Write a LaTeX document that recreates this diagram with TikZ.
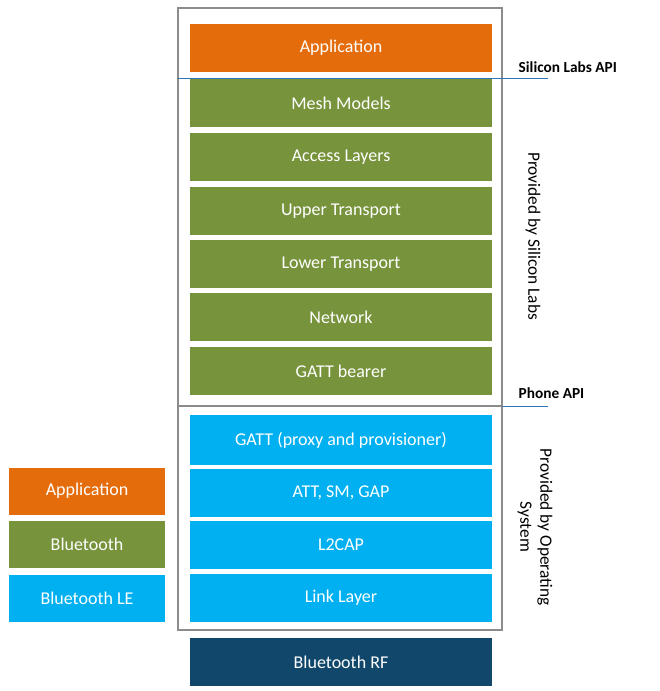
\documentclass[tikz,border=0pt]{standalone}
\usepackage{fontspec}
\setmainfont{Carlito}
\usetikzlibrary{positioning}
\definecolor{apporange}{HTML}{E46C0A}
\definecolor{meshgreen}{HTML}{77933C}
\definecolor{bleblue}{HTML}{00B0F0}
\definecolor{rfblue}{HTML}{10476A}
\definecolor{framegray}{HTML}{8C8C8C}
\definecolor{apiline}{HTML}{2E75B6}
\tikzset{
  lyr/.style={rectangle, minimum width=302*0.75pt, minimum height=48*0.75pt, inner sep=0pt, text=white, font=\fontsize{13.5}{15}\selectfont},
  leg/.style={rectangle, minimum width=156*0.75pt, minimum height=47*0.75pt, inner sep=0pt, text=white, font=\fontsize{13.5}{15}\selectfont},
  apitxt/.style={font=\bfseries\fontsize{11.5}{13}\selectfont, anchor=west},
  side/.style={font=\fontsize{13}{15}\selectfont, align=center, rotate=-90},
}
\begin{document}
\begin{tikzpicture}[x=0.75pt, y=-0.75pt]
  \useasboundingbox (0,0) rectangle (659,691);
  % --- frames ---
  \draw[framegray, line width=2.2pt] (178,8) rectangle (502,406);
  \draw[framegray, line width=2.2pt] (178,406) rectangle (502,630);
  % --- Silicon Labs stack ---
  \node[lyr, fill=apporange] (app) at (341,48) {Application};
  \node[lyr, fill=meshgreen] (mesh) at (341,103) {Mesh Models};
  \node[lyr, fill=meshgreen] (acc) at (341,157) {Access Layers};
  \node[lyr, fill=meshgreen] (upper) at (341,211) {Upper Transport};
  \node[lyr, fill=meshgreen] (lower) at (341,264) {Lower Transport};
  \node[lyr, fill=meshgreen] (net) at (341,317) {Network};
  \node[lyr, fill=meshgreen] (bearer) at (341,371) {GATT bearer};
  % --- OS stack ---
  \node[lyr, fill=bleblue, minimum height=50*0.75pt] (gatt) at (341,440) {GATT (proxy and provisioner)};
  \node[lyr, fill=bleblue] (att) at (341,493) {ATT, SM, GAP};
  \node[lyr, fill=bleblue] (l2cap) at (341,545) {L2CAP};
  \node[lyr, fill=bleblue] (link) at (341,598) {Link Layer};
  \node[lyr, fill=rfblue] (rf) at (341,662) {Bluetooth RF};
  % --- API lines ---
  \coordinate (sl0) at (178,78);
  \coordinate (sl1) at (548,78);
  \coordinate (ph0) at (502,406);
  \coordinate (ph1) at (548,406);
  \draw[apiline, line width=0.6pt] (sl0) -- (sl1);
  \draw[apiline, line width=0.6pt] (ph0) -- (ph1);
  \node[apitxt] (slapi) at (514,67) {Silicon Labs API};
  \node[apitxt] (phapi) at (514,393) {Phone API};
  \node[side] (bysl) at (533,236) {Provided by Silicon Labs};
  \node[side] (byos) at (535,527) {Provided by Operating\\System};
  % --- legend ---
  \node[leg, fill=apporange] (lapp) at (87,491) {Application};
  \node[leg, fill=meshgreen] (lbt) at (87,544) {Bluetooth};
  \node[leg, fill=bleblue] (lble) at (87,598) {Bluetooth LE};
\end{tikzpicture}
\end{document}
